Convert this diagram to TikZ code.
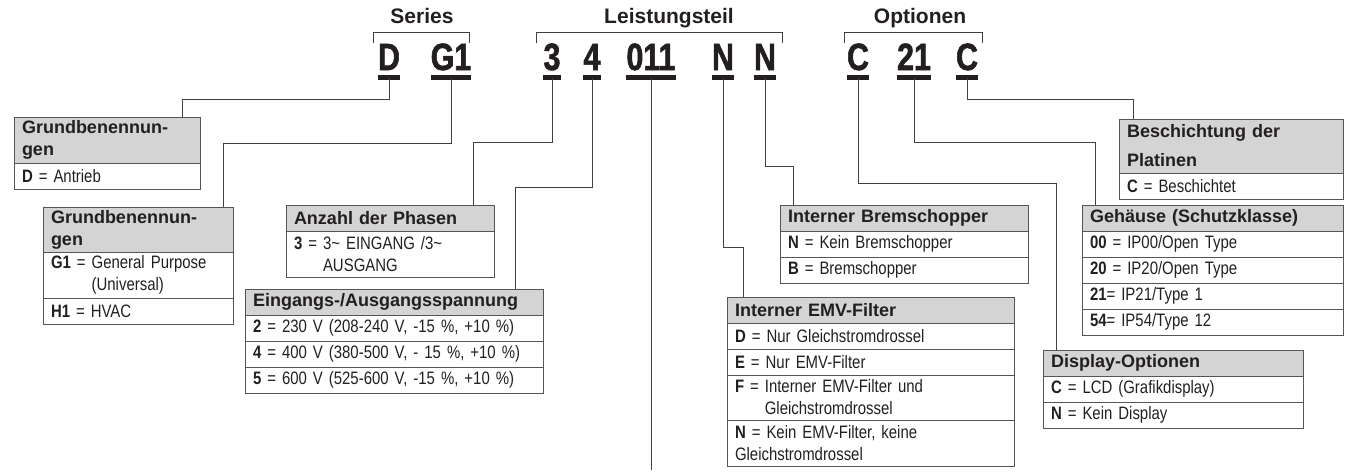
\documentclass[tikz,border=0pt]{standalone}
\usepackage{fontspec}
\setmainfont{Liberation Sans}
\newfontfamily\condfont[FakeStretch=0.83]{Liberation Sans}
\newfontfamily\codefont[FakeStretch=0.8,FakeBold=1.5]{Liberation Sans}
\usetikzlibrary{positioning}
\definecolor{hdrgray}{RGB}{212,212,212}
\definecolor{boxline}{RGB}{85,85,85}
\definecolor{ink}{RGB}{35,31,32}

\begin{document}
\begin{tikzpicture}[x=1pt, y=-1pt,
  grp/.style={anchor=base, inner sep=0pt, text=ink, font=\bfseries\fontsize{21}{21}\selectfont},
  code/.style={anchor=base, inner sep=0pt, text depth=0pt, text=ink, font=\codefont\bfseries\fontsize{38}{38}\selectfont},
  uline/.style={line width=5pt, ink},
  brk/.style={line width=1pt, black!75},
  conn/.style={line width=1pt, black!75},
  hdr/.style={draw=boxline, fill=hdrgray, line width=1pt, outer sep=0pt, anchor=north west,
    inner xsep=8pt, inner ysep=0pt, text width=#1, minimum height=26pt, align=left,
    text=ink, font=\bfseries\fontsize{18}{22}\selectfont},
  vrow/.style={draw=boxline, line width=1pt, outer sep=0pt,
    inner xsep=8pt, inner ysep=0pt, text width=#1, minimum height=26pt, align=left,
    text=ink, font=\condfont\fontsize{18}{22}\selectfont},
]
  \useasboundingbox (0,0) rectangle (1345,475);

  % Group titles and brackets
  \node[grp] (tSeries) at (422,23) {Series};
  \node[grp] (tLeist)  at (669,23) {Leistungsteil};
  \node[grp] (tOpt)    at (920,23) {Optionen};
  \draw[brk] (373,43) |- (469,32) -- (469,43);
  \draw[brk] (536,43) |- (782,32) -- (782,43);
  \draw[brk] (844,43) |- (982,32) -- (982,43);

  % Type code
  \node[code] (cD)   at (389,70) {D};
  \node[code] (cG)   at (451,70) {G1};
  \node[code] (c3)   at (552,70) {3};
  \node[code] (c4)   at (592,70) {4};
  \node[code] (c011) at (651,70) {011};
  \node[code] (cN)   at (723,70) {N};
  \node[code] (cNb)  at (765,70) {N};
  \node[code] (cC)   at (858,70) {C};
  \node[code] (c21)  at (914,70) {21};
  \node[code] (cCb)  at (967,70) {C};
  \foreach \c in {cD,cG,c3,c4,c011,cN,cNb,cC,c21,cCb}
    \draw[uline] ([yshift=-7pt]\c.south west) -- ([yshift=-7pt]\c.south east);

  % Grundbenennungen (D)
  \node[hdr=170, minimum height=46pt] (gAh) at (14,117) {Grundbenennun-\\gen};
  \node[vrow=170, below=0pt of gAh] (gA1) {{\bfseries D} = Antrieb};

  % Grundbenennungen (G1)
  \node[hdr=174, minimum height=45pt] (gBh) at (43,207) {Grundbenennun-\\gen};
  \node[vrow=174, minimum height=46pt, below=0pt of gBh] (gB1)
    {{\bfseries G1} = General Purpose\\\phantom{{\bfseries G1} = }(Universal)};
  \node[vrow=174, below=0pt of gB1] (gB2) {{\bfseries H1} = HVAC};

  % Anzahl der Phasen
  \node[hdr=192] (phH) at (286,205) {Anzahl der Phasen};
  \node[vrow=192, minimum height=46pt, below=0pt of phH] (ph1)
    {{\bfseries 3} = 3\textasciitilde{} EINGANG /3\textasciitilde\\\phantom{{\bfseries 3} = }AUSGANG};

  % Eingangs-/Ausgangsspannung
  \node[hdr=282] (spH) at (245,289) {Eingangs-/Ausgangsspannung};
  \node[vrow=282, below=0pt of spH] (sp1) {{\bfseries 2} = 230 V (208-240 V, -15 \%, +10 \%)};
  \node[vrow=282, below=0pt of sp1] (sp2) {{\bfseries 4} = 400 V (380-500 V, - 15 \%, +10 \%)};
  \node[vrow=282, below=0pt of sp2] (sp3) {{\bfseries 5} = 600 V (525-600 V, -15 \%, +10 \%)};

  % Interner Bremschopper
  \node[hdr=232] (brH) at (780,205) {Interner Bremschopper};
  \node[vrow=232, below=0pt of brH] (br1) {{\bfseries N} = Kein Bremschopper};
  \node[vrow=232, below=0pt of br1] (br2) {{\bfseries B} = Bremschopper};

  % Interner EMV-Filter
  \node[hdr=271] (emH) at (727,297) {Interner EMV-Filter};
  \node[vrow=271, below=0pt of emH] (em1) {{\bfseries D} = Nur Gleichstromdrossel};
  \node[vrow=271, below=0pt of em1] (em2) {{\bfseries E} = Nur EMV-Filter};
  \node[vrow=271, minimum height=45pt, below=0pt of em2] (em3)
    {{\bfseries F} = Interner EMV-Filter und\\\phantom{{\bfseries F} = }Gleichstromdrossel};
  \node[vrow=271, minimum height=46pt, below=0pt of em3] (em4)
    {{\bfseries N} = Kein EMV-Filter, keine\\Gleichstromdrossel};

  % Beschichtung der Platinen
  \node[hdr=208, minimum height=54pt] (beH) at (1119,119) {Beschichtung der\\[7pt]Platinen};
  \node[vrow=208, below=0pt of beH] (be1) {{\bfseries C} = Beschichtet};

  % Gehaeuse (Schutzklasse)
  \node[hdr=245] (geH) at (1082,205) {Gehäuse (Schutzklasse)};
  \node[vrow=245, below=0pt of geH] (ge1) {{\bfseries 00} = IP00/Open Type};
  \node[vrow=245, below=0pt of ge1] (ge2) {{\bfseries 20} = IP20/Open Type};
  \node[vrow=245, below=0pt of ge2] (ge3) {{\bfseries 21}= IP21/Type 1};
  \node[vrow=245, below=0pt of ge3] (ge4) {{\bfseries 54}= IP54/Type 12};

  % Display-Optionen
  \node[hdr=244] (diH) at (1043,350) {Display-Optionen};
  \node[vrow=244, below=0pt of diH] (di1) {{\bfseries C} = LCD (Grafikdisplay)};
  \node[vrow=244, below=0pt of di1] (di2) {{\bfseries N} = Kein Display};

  % Connectors
  \coordinate (kD)   at (182,99);
  \coordinate (kG)   at (223,143);
  \coordinate (k3)   at (473,142);
  \coordinate (k4)   at (515,187);
  \coordinate (kN)   at (743,247);
  \coordinate (kNb)  at (793,166);
  \coordinate (kC)   at (1056,183);
  \coordinate (k21)  at (1095,142);
  \coordinate (kCb)  at (1133,99);
  \coordinate (e011) at (651,470);
  \draw[conn] ([yshift=-8pt]cD.south)  |- (kD)  -- (kD |- gAh.north);
  \draw[conn] ([yshift=-8pt]cG.south)  |- (kG)  -- (kG |- gBh.north);
  \draw[conn] ([yshift=-8pt]c3.south)  |- (k3)  -- (k3 |- phH.north);
  \draw[conn] ([yshift=-8pt]c4.south)  |- (k4)  -- (k4 |- spH.north);
  \draw[conn] ([yshift=-8pt]c011.south) -- (c011.south |- e011);
  \draw[conn] ([yshift=-8pt]cN.south)  |- (kN)  -- (kN |- emH.north);
  \draw[conn] ([yshift=-8pt]cNb.south) |- (kNb) -- (kNb |- brH.north);
  \draw[conn] ([yshift=-8pt]cC.south)  |- (kC)  -- (kC |- diH.north);
  \draw[conn] ([yshift=-8pt]c21.south) |- (k21) -- (k21 |- geH.north);
  \draw[conn] ([yshift=-8pt]cCb.south) |- (kCb) -- (kCb |- beH.north);
\end{tikzpicture}
\end{document}
